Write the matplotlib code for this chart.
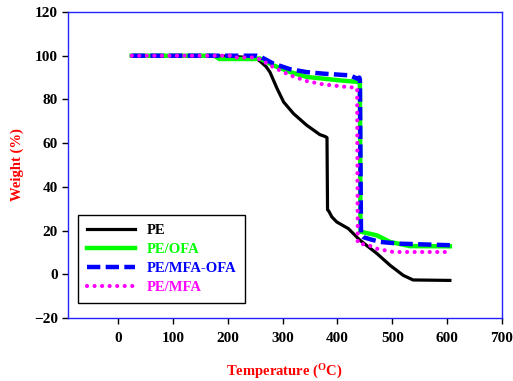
import matplotlib
matplotlib.use("Agg")
import matplotlib.pyplot as plt

# Data
pe_t = [25, 100, 200, 250, 259, 270, 277, 290, 302, 320, 344, 368, 378, 381, 382, 384, 390, 399, 420, 441, 472, 496, 520, 538, 605]
pe_w = [100, 100, 99.8, 99, 97.5, 95, 92.5, 85, 78.8, 73.5, 68.2, 63.9, 63, 62.5, 29.5, 29, 26.2, 23.9, 20.9, 15.6, 9.5, 4.1, -0.5, -2.6, -2.8]

ofa_t = [25, 175, 185, 250, 258, 283, 314, 344, 375, 405, 438, 441, 442, 444, 460, 472, 496, 532, 605]
ofa_w = [100, 100, 98.5, 98.5, 98.8, 95.6, 92.5, 90.3, 89.5, 88.7, 88, 87.5, 19.5, 19.4, 18.5, 17.8, 14.8, 12.9, 12.8]

mfaofa_t = [25, 253, 260, 283, 314, 344, 374, 423, 436, 440, 441, 443, 447, 460, 478, 514, 605]
mfaofa_w = [100, 100, 99.5, 96.4, 93.8, 92.5, 91.8, 91, 89.5, 90, 89, 18, 17, 16, 14.8, 14, 13.3]

mfa_t = [25, 210, 215, 250, 260, 283, 314, 344, 374, 417, 434, 436, 437, 438, 455, 472, 502, 605]
mfa_w = [100, 100, 99.2, 99.2, 98.2, 94.8, 91, 88.4, 86.9, 85.7, 85.4, 85, 14.5, 14, 13.5, 11.7, 10.2, 10.2]

labels = ["PE", "PE/OFA", "PE/MFA-OFA", "PE/MFA"]
x_ticks = [0, 100, 200, 300, 400, 500, 600, 700]
y_ticks = [-20, 0, 20, 40, 60, 80, 100, 120]

plt.rcParams['font.family'] = ['Liberation Serif', 'DejaVu Serif']
plt.rcParams['font.weight'] = 'bold'
plt.rcParams['mathtext.fontset'] = 'custom'
plt.rcParams['mathtext.rm'] = 'Liberation Serif:bold'
plt.rcParams['mathtext.bf'] = 'Liberation Serif:bold'

fig = plt.figure(figsize=(5.13, 3.81), dpi=100)
ax = fig.add_axes([67.5/513, 1 - 318/381, (502-67.5)/513, (318-12)/381])

ax.plot(pe_t, pe_w, color='black', lw=2.3, label=labels[0])
ax.plot(ofa_t, ofa_w, color='#00FF00', lw=3.2, label=labels[1])
ax.plot(mfaofa_t, mfaofa_w, color='#0000FF', lw=3.2, linestyle=(0, (3, 1.2)), label=labels[2])
ax.plot(mfa_t, mfa_w, color='#FF00FF', lw=3.0, linestyle=(0, (0.01, 1.8)),
        dash_capstyle='round', label=labels[3])

ax.set_xlim(-92, 700)
ax.set_ylim(-20, 120)
ax.set_xticks(x_ticks)
ax.set_yticks(y_ticks)
ax.tick_params(axis='x', direction='out', length=4, width=1, color='black',
               labelsize=11, pad=6, top=False)
ax.tick_params(axis='y', direction='out', length=4, width=1, color='black',
               labelsize=11, pad=3, right=False)
for lab in ax.get_xticklabels() + ax.get_yticklabels():
    lab.set_fontweight('bold')

for s in ax.spines.values():
    s.set_color('#2222FF')
    s.set_linewidth(1.0)

ax.set_xlabel("Temperature ($\\mathrm{^{O}}$C)", color='red', fontsize=10.5,
              fontweight='bold', labelpad=13)
ax.set_ylabel("Weight (%)", color='red', fontsize=10.5, fontweight='bold', labelpad=7)

leg = ax.legend(loc='lower left', bbox_to_anchor=(0.025, 0.049), borderaxespad=0,
                frameon=True, fancybox=False, edgecolor='black', framealpha=1,
                handlelength=3.3, handletextpad=0.8, labelspacing=0.4, borderpad=0.6,
                labelcolor='linecolor', prop={'weight': 'bold', 'size': 10.5})
leg.get_frame().set_linewidth(1.0)

fig.savefig("out.png", dpi=100)
